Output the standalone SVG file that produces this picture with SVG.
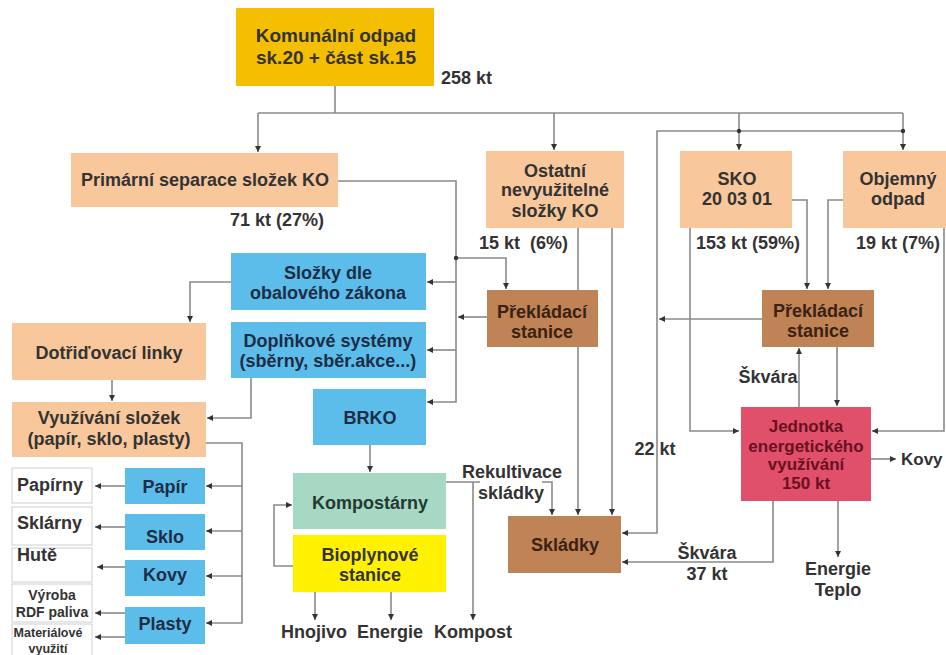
<svg xmlns="http://www.w3.org/2000/svg" width="946" height="655" viewBox="0 0 946 655">
<defs>
<marker id="ah" markerUnits="userSpaceOnUse" markerWidth="7" markerHeight="7" refX="6" refY="3.5" orient="auto">
<path d="M0,0.5 L6,3.5 L0,6.5 z" fill="#333"/>
</marker>
<style>
text{font-family:"Liberation Sans",Arial,sans-serif;font-weight:bold;font-size:18px;fill:#333;text-anchor:middle}
.b rect{stroke:none}
.gold{fill:#F3BF00}
.peach{fill:#F8C89C}
.brown{fill:#C08356}
.blue{fill:#5CBDEB}
.green{fill:#A6D8C4}
.yellow{fill:#FFF100}
.pink{fill:#E0506A}
.white{fill:#fff;stroke:#d0d0d0;stroke-width:1}
.bt{fill:#1c2d45}
.jt{fill:#6a1020}
.lt{text-anchor:start}
.sm{font-size:14px}
.xs{font-size:12.5px}
#connectors path{fill:none;stroke:#8a8a8a;stroke-width:1.6}
#connectors .a{marker-end:url(#ah)}
#connectors circle{fill:#333}
</style>
</defs>
<rect width="946" height="655" fill="#fff"/>

<g id="connectors">
<path d="M335,86 V113 M258,113 H903"/>
<path class="a" d="M258,113 V152"/>
<path class="a" d="M554,113 V150"/>
<path class="a" d="M739,113 V150"/>
<path class="a" d="M903,113 V150"/>
<path class="a" d="M903,131 H657 V533 H622"/>
<circle cx="739" cy="131" r="2.2"/>
<circle cx="903" cy="131" r="2.2"/>
<path class="a" d="M762,319 H659"/>
<path class="a" d="M690,228 V431 H739"/>
<path class="a" d="M792,200 H807 V289"/>
<path class="a" d="M843,200 H828 V289"/>
<path class="a" d="M944,228 V431 H872"/>
<path class="a" d="M799,407 V348"/>
<path class="a" d="M837,347 V406"/>
<path class="a" d="M871,459 H896"/>
<path class="a" d="M773,501 V562 H622"/>
<path class="a" d="M838,501 V557"/>
<path class="a" d="M338,181 H456 V402 H427"/>
<path class="a" d="M456,282 H427"/>
<path class="a" d="M456,350 H427"/>
<path class="a" d="M456,258 H506 V289"/>
<circle cx="456" cy="258" r="2.2"/>
<path class="a" d="M487,317 H458"/>
<path d="M578,228 V290"/>
<path class="a" d="M578,347 V515"/>
<path class="a" d="M612,228 V515"/>
<path d="M446,482 H480"/>
<path class="a" d="M542,482 H552 V515"/>
<path class="a" d="M473,482 V620"/>
<path class="a" d="M370,445 V472"/>
<path class="a" d="M293,566 H274 V505 H292"/>
<path class="a" d="M315,592 V620"/>
<path class="a" d="M391,592 V620"/>
<path class="a" d="M231,282 H190 V322"/>
<path class="a" d="M112,380 V401"/>
<path class="a" d="M251,378 V418 H207"/>
<path class="a" d="M206,443 H242 V623 H206"/>
<path class="a" d="M242,486 H206"/>
<path class="a" d="M242,531 H206"/>
<path class="a" d="M242,576 H206"/>
<path class="a" d="M125,486 H95"/>
<path class="a" d="M125,527 H95"/>
<path class="a" d="M125,567 H97"/>
<path class="a" d="M125,613 H95"/>
<path class="a" d="M125,637 H95"/>
</g>

<g id="komunalni"><rect class="gold" x="236" y="8" width="198" height="78"/>
<text x="336" y="42" style="font-size:19px">Komunální odpad</text>
<text x="336" y="64" style="font-size:19px">sk.20 + část sk.15</text></g>
<text x="441" y="84" class="lt">258 kt</text>

<g id="primarni"><rect class="peach" x="71" y="153" width="267" height="54"/>
<text x="205" y="186">Primární separace složek KO</text></g>
<text x="277" y="226">71 kt (27%)</text>

<g id="ostatni"><rect class="peach" x="486" y="151" width="138" height="77"/>
<text x="555" y="177">Ostatní</text>
<text x="555" y="196">nevyužitelné</text>
<text x="555" y="217">složky KO</text></g>
<text x="479" y="249" class="lt" xml:space="preserve">15 kt  (6%)</text>

<g id="sko"><rect class="peach" x="680" y="151" width="112" height="77"/>
<text x="737" y="185">SKO</text>
<text x="737" y="205">20 03 01</text></g>
<text x="748" y="249">153 kt (59%)</text>

<g id="objemny"><rect class="peach" x="843" y="151" width="103" height="77"/>
<text x="898" y="185">Objemný</text>
<text x="898" y="205">odpad</text></g>
<text x="898" y="249">19 kt (7%)</text>

<g id="prekladaci1"><rect class="brown" x="487" y="290" width="111" height="57"/>
<text x="542" y="318" style="fill:#3a2212">Překládací</text>
<text x="542" y="338" style="fill:#3a2212">stanice</text></g>

<g id="prekladaci2"><rect class="brown" x="762" y="290" width="112" height="57"/>
<text x="818" y="317" style="fill:#3a2212">Překládací</text>
<text x="818" y="337" style="fill:#3a2212">stanice</text></g>

<g id="jednotka"><rect class="pink" x="741" y="407" width="130" height="94"/>
<text x="806" y="432" class="jt" style="font-size:17px">Jednotka</text>
<text x="806" y="452" class="jt" style="font-size:17px">energetického</text>
<text x="806" y="470" class="jt" style="font-size:17px">využívání</text>
<text x="806" y="489" class="jt" style="font-size:17px">150 kt</text></g>

<text x="768" y="383">Škvára</text>
<text x="655" y="455">22 kt</text>
<text x="901" y="465" class="lt" style="font-size:17px">Kovy</text>
<text x="707" y="559">Škvára</text>
<text x="707" y="580">37 kt</text>
<text x="838" y="575">Energie</text>
<text x="838" y="596">Teplo</text>

<g id="skladky"><rect class="brown" x="508" y="516" width="113" height="57"/>
<text x="565" y="551" style="fill:#3a2212">Skládky</text></g>

<text x="512" y="478">Rekultivace</text>
<text x="511" y="499">skládky</text>

<g id="slozky"><rect class="blue" x="231" y="253" width="195" height="57"/>
<text x="328" y="279" class="bt">Složky dle</text>
<text x="328" y="299" class="bt">obalového zákona</text></g>

<g id="doplnkove"><rect class="blue" x="231" y="322" width="195" height="56"/>
<text x="328" y="347" class="bt">Doplňkové systémy</text>
<text x="328" y="367" class="bt">(sběrny, sběr.akce...)</text></g>

<g id="brko"><rect class="blue" x="313" y="389" width="113" height="56"/>
<text x="370" y="424" class="bt">BRKO</text></g>

<g id="kompostarny"><rect class="green" x="293" y="473" width="153" height="56"/>
<text x="370" y="509" style="fill:#243a30">Kompostárny</text></g>

<g id="bioplyn"><rect class="yellow" x="293" y="535" width="153" height="57"/>
<text x="370" y="561">Bioplynové</text>
<text x="370" y="581">stanice</text></g>

<text x="314" y="638">Hnojivo</text>
<text x="390" y="638">Energie</text>
<text x="473" y="638">Kompost</text>

<g id="dotridovaci"><rect class="peach" x="12" y="323" width="194" height="57"/>
<text x="109" y="359">Dotřiďovací linky</text></g>

<g id="vyuzivani"><rect class="peach" x="12" y="402" width="194" height="55"/>
<text x="109" y="424">Využívání složek</text>
<text x="109" y="445">(papír, sklo, plasty)</text></g>

<g id="papir"><rect class="blue" x="125" y="468" width="80" height="36"/>
<text x="165" y="493" class="bt">Papír</text></g>
<g id="sklo"><rect class="blue" x="125" y="514" width="80" height="36"/>
<text x="165" y="543" class="bt">Sklo</text></g>
<g id="kovy"><rect class="blue" x="125" y="560" width="80" height="36"/>
<text x="165" y="581" class="bt">Kovy</text></g>
<g id="plasty"><rect class="blue" x="125" y="607" width="80" height="37"/>
<text x="165" y="630" class="bt">Plasty</text></g>

<g id="papirny"><rect class="white" x="12" y="468" width="80" height="35"/>
<text x="17" y="491" class="lt">Papírny</text></g>
<g id="sklarny"><rect class="white" x="12" y="507" width="80" height="38"/>
<text x="17" y="529" class="lt">Sklárny</text></g>
<g id="hute"><rect class="white" x="12" y="548" width="80" height="34"/>
<text x="17" y="561" class="lt">Hutě</text></g>
<g id="rdf"><rect class="white" x="12" y="584" width="80" height="38"/>
<text x="52" y="600" class="sm">Výroba</text>
<text x="52" y="617" class="sm">RDF paliva</text></g>
<g id="materialove"><rect class="white" x="12" y="624" width="80" height="35"/>
<text x="48" y="637" class="xs">Materiálové</text>
<text x="48" y="653" class="xs">využití</text></g>
</svg>
